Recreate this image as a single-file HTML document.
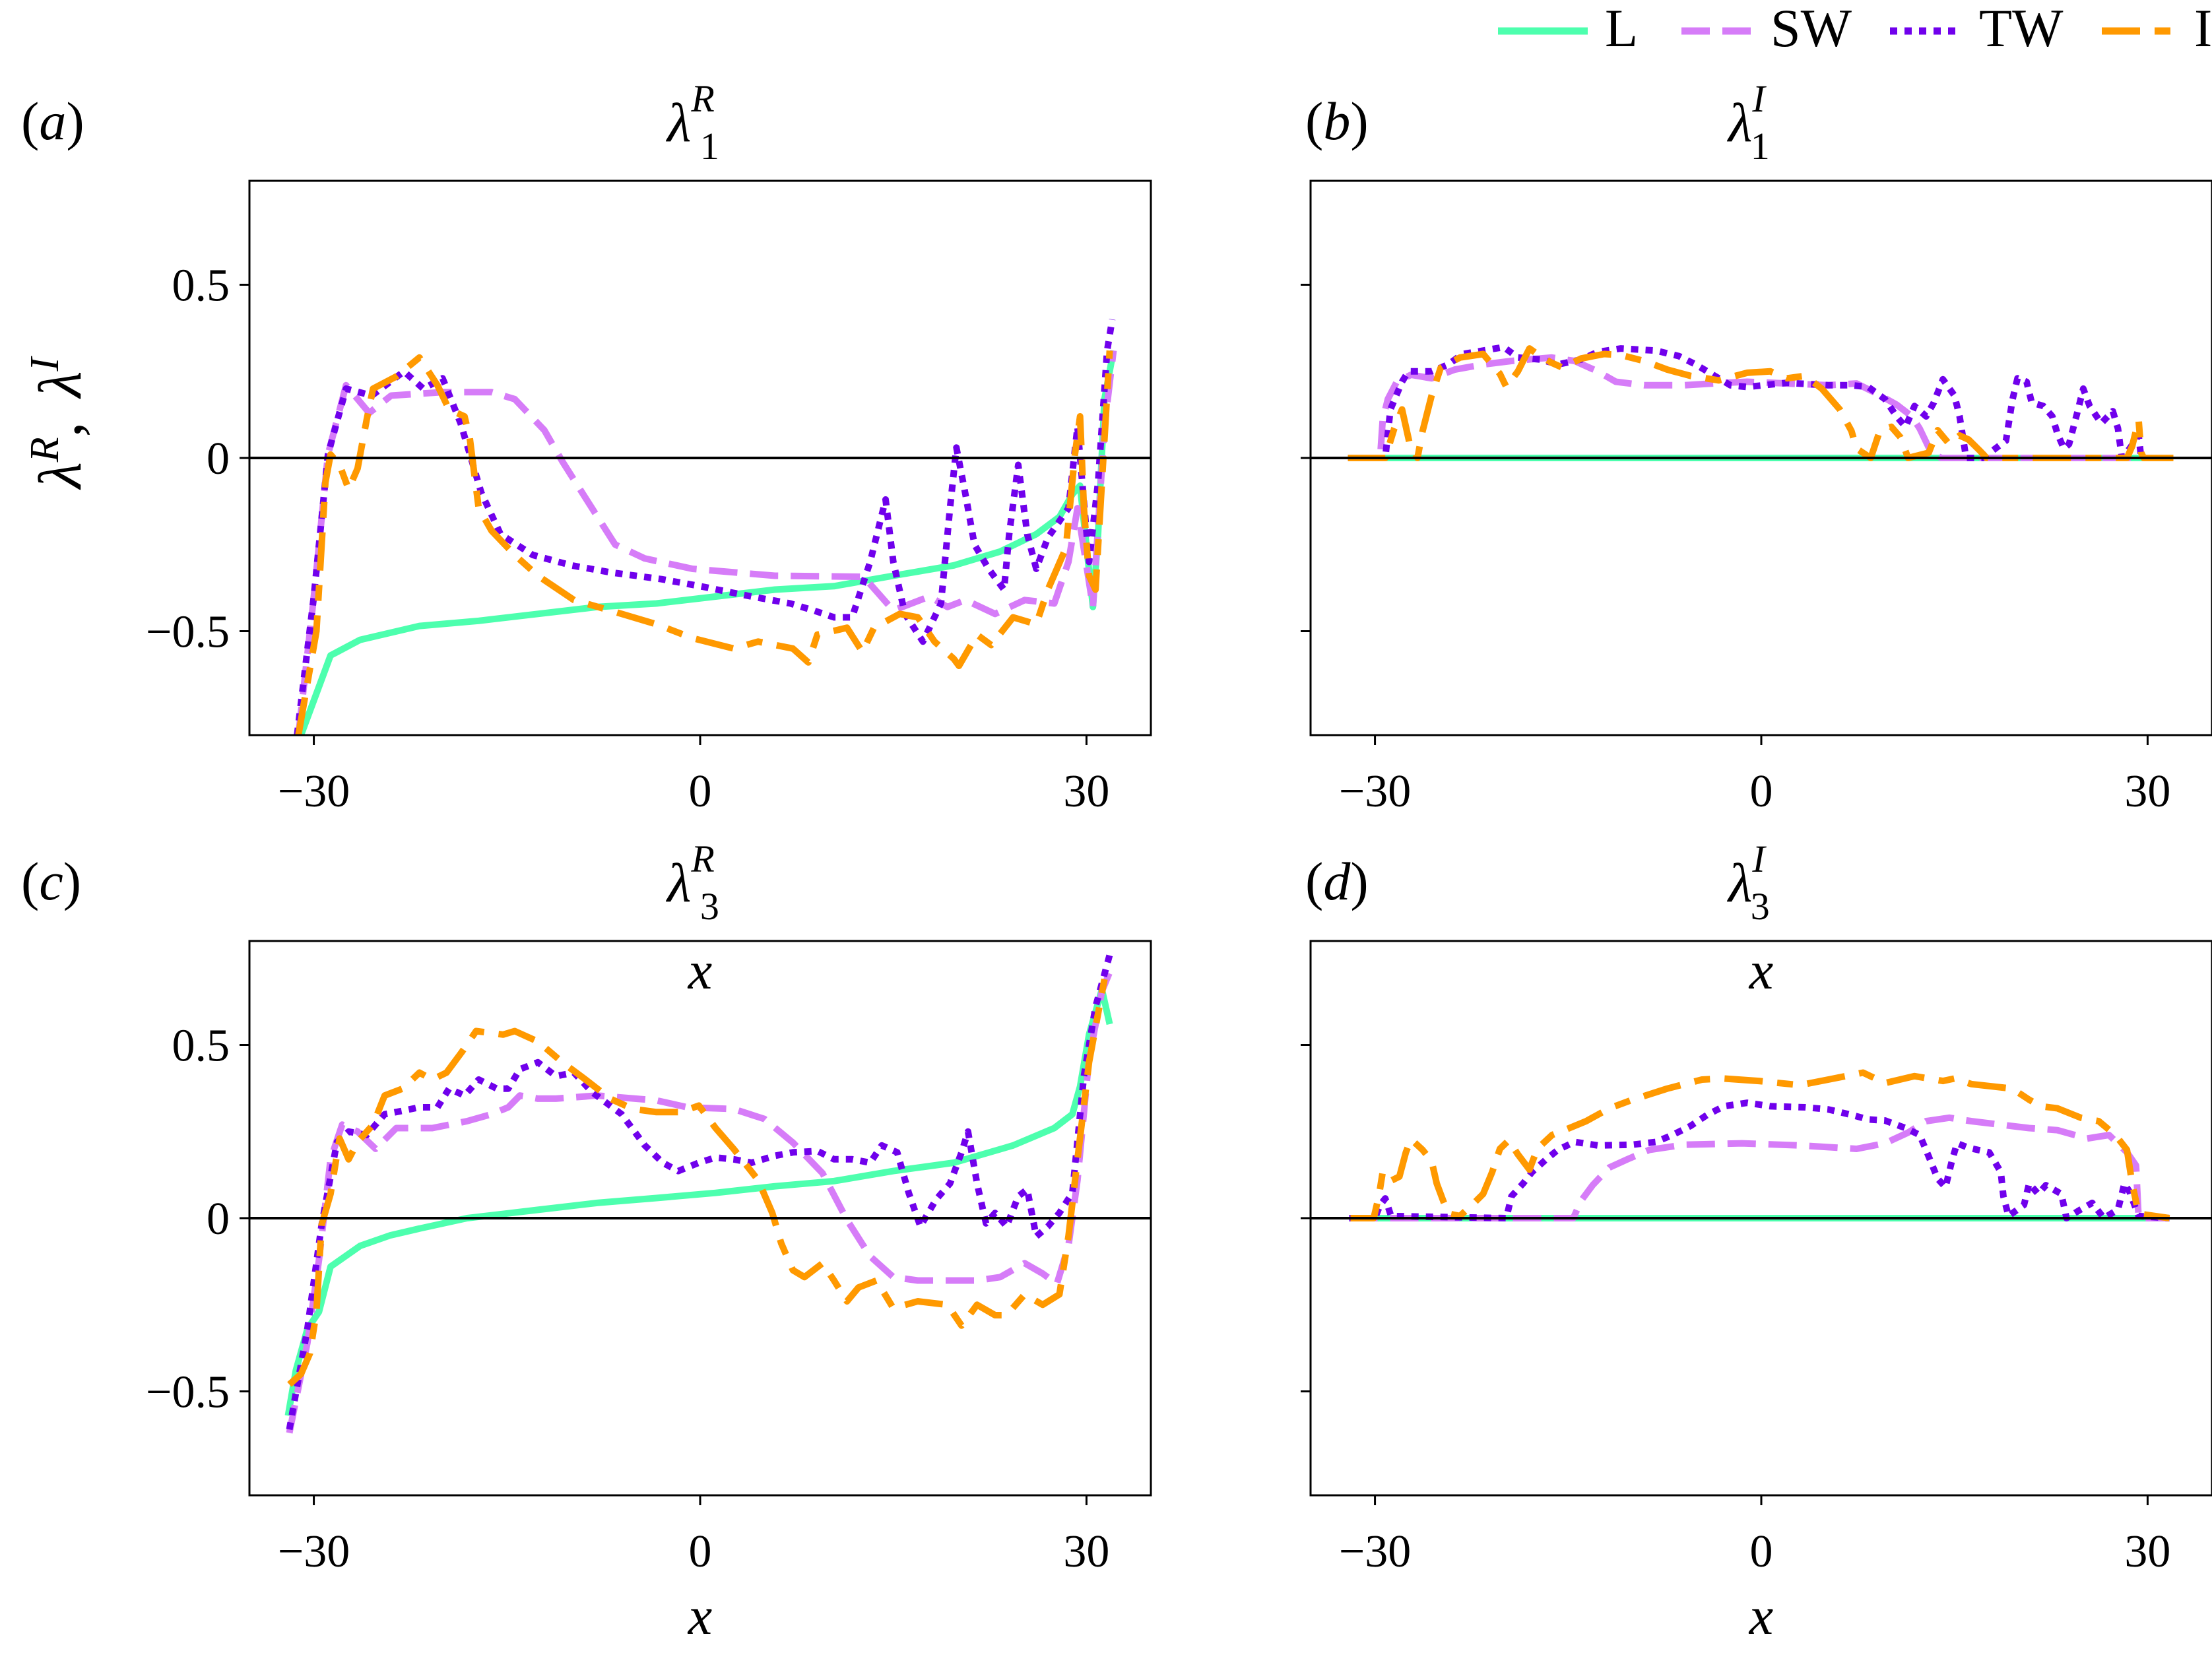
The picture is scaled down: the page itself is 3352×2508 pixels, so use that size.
<!DOCTYPE html>
<html><head><meta charset="utf-8">
<style>
html,body{margin:0;padding:0;background:#fff;}
svg{display:block;}
text{font-family:"Liberation Serif","DejaVu Serif",serif;fill:#000;}
</style></head>
<body>
<svg id="fig" width="3352" height="2508" viewBox="0 0 3352 2508" xmlns="http://www.w3.org/2000/svg">
<defs>
<clipPath id="clip-a"><rect x="378" y="274" width="1366" height="840"/></clipPath>
<clipPath id="clip-b"><rect x="1986" y="274" width="1366" height="840"/></clipPath>
<clipPath id="clip-c"><rect x="378" y="1426" width="1366" height="840"/></clipPath>
<clipPath id="clip-d"><rect x="1986" y="1426" width="1366" height="840"/></clipPath>
</defs>
<g>
  <line x1="2270" y1="47" x2="2406" y2="47" stroke="#4dffae" stroke-width="11"/>
  <text x="2432" y="70" font-size="82">L</text>
  <line x1="2548" y1="47" x2="2656" y2="47" stroke="#d67cf8" stroke-width="11" stroke-dasharray="43 19"/>
  <text x="2683" y="70" font-size="82">SW</text>
  <line x1="2864" y1="47" x2="2970" y2="47" stroke="#7000ec" stroke-width="11" stroke-dasharray="11 11"/>
  <text x="2999" y="70" font-size="82">TW</text>
  <line x1="3185" y1="47" x2="3291" y2="47" stroke="#ff9900" stroke-width="11" stroke-dasharray="58 22 24 22"/>
  <text x="3325" y="70" font-size="82">I</text>
</g>
<g id="panels"></g>
<text transform="translate(122,641) rotate(-90)" text-anchor="middle" font-size="92" font-style="italic">λ<tspan font-size="62" dy="-34">R</tspan><tspan dy="34" font-style="normal">,  </tspan><tspan dx="14">λ</tspan><tspan font-size="62" dy="-34">I</tspan></text>
</svg>
<script>
// ---- data (x positions and eigenvalue values) ----
const xTicks = [-30, 0, 30];
const xTickLabels = ["\u221230", "0", "30"];
const yTicks = [0.5, 0, -0.5];
const yTickLabels = ["0.5", "0", "\u22120.5"];

// panel (a): lambda_1^R
const aL_x = [-31,-29.6,-28.7,-26.4,-21.8,-17.2,-12.6,-8,-3.4,1.2,5.8,10.4,15,19.7,23.3,26.1,27.9,28.9,29.5,30.5,30.9,31.4,32.1];
const aL_y = [-0.8,-0.66,-0.57,-0.525,-0.485,-0.47,-0.45,-0.43,-0.42,-0.40,-0.38,-0.37,-0.34,-0.31,-0.27,-0.22,-0.17,-0.105,-0.08,-0.43,-0.22,0.17,0.31];
const aSW_x = [-31.2,-30,-28.9,-27.5,-25.7,-24,-20,-16.2,-14.4,-12.1,-10.7,-8.4,-6.6,-4.3,-0.6,5.8,12.7,15,17.8,19.2,20.6,22.9,25.2,27.5,28.6,29.3,30.5,31.4,32.1];
const aSW_y = [-0.8,-0.4,0.01,0.21,0.13,0.18,0.19,0.19,0.17,0.08,-0.01,-0.145,-0.25,-0.29,-0.32,-0.34,-0.343,-0.44,-0.40,-0.43,-0.41,-0.45,-0.41,-0.42,-0.30,-0.145,-0.43,0.09,0.31];
const aTW_x = [-31.3,-30,-28.9,-27.5,-25.5,-23,-21.5,-20,-18.6,-17,-15.5,-13,-10,-7,-3,0,4,7,8.8,10.4,11.8,13.2,14.4,15,15.9,17.3,18.7,19.4,19.9,20.6,21.3,22.4,23.6,24,24.7,25.4,26.1,27,28.6,29.3,30.2,30.9,31.6,32];
const aTW_y = [-0.8,-0.4,0.01,0.2,0.18,0.25,0.2,0.23,0.1,-0.1,-0.22,-0.28,-0.31,-0.33,-0.35,-0.37,-0.40,-0.42,-0.44,-0.46,-0.46,-0.30,-0.12,-0.30,-0.45,-0.53,-0.42,-0.145,0.03,-0.105,-0.25,-0.32,-0.38,-0.22,-0.02,-0.22,-0.32,-0.23,-0.145,0.09,-0.30,-0.07,0.31,0.40];
const aI_x = [-31.2,-29.8,-29.1,-28.7,-28,-27.3,-26.6,-25.9,-25.4,-23.6,-21.8,-20.4,-19.5,-18.3,-17.9,-17.2,-16.2,-14.4,-12.6,-9.8,-7,-3.4,-0.6,2.6,4.5,7.2,8.4,9.1,11.4,12.6,13.5,15.5,16.9,18.2,19.7,20.1,21.5,22.6,24.3,26.1,27,28.4,29.1,29.5,29.8,30.2,30.7,31.2,31.8];
const aI_y = [-0.8,-0.5,-0.07,0.01,-0.02,-0.09,-0.03,0.11,0.2,0.235,0.29,0.21,0.14,0.12,0.06,-0.145,-0.21,-0.28,-0.34,-0.41,-0.44,-0.48,-0.52,-0.55,-0.53,-0.55,-0.59,-0.51,-0.49,-0.56,-0.49,-0.45,-0.46,-0.53,-0.58,-0.60,-0.51,-0.54,-0.46,-0.48,-0.38,-0.26,0.01,0.12,-0.145,-0.34,-0.38,-0.07,0.31];

// panel (b): lambda_1^I
const bL_x = [-32.1,32];
const bL_y = [0,0];
const bSW_x = [-32.1,-29.6,-29.4,-29,-28.3,-27.2,-25.6,-23.8,-21.6,-19.4,-16.3,-14.5,-12.7,-11.3,-9.1,-6,-3.75,-1.1,2,5.2,7.4,8.75,10.5,11.7,12.3,13.2,13.7,14,32];
const bSW_y = [0,0,0.11,0.17,0.22,0.24,0.23,0.255,0.27,0.28,0.29,0.28,0.25,0.22,0.21,0.21,0.215,0.22,0.215,0.21,0.215,0.19,0.154,0.12,0.085,0.015,0.005,0,0];
const bTW_x = [-32.1,-29.2,-28.8,-27.9,-27.4,-25.6,-24.3,-23.2,-21.6,-20,-18.9,-17.1,-15.8,-14,-12.7,-10.9,-8.2,-6.4,-5.1,-3.75,-2.4,-1.1,2,5.2,7,8.3,9.6,10.5,11.2,11.9,12.8,13.4,14.1,15,15.4,15.7,15.9,17.2,19,19.5,19.9,20.6,21,21.9,22.6,23,23.5,23.9,24.6,25,25.5,26.4,27.3,27.7,28,28.6,29.3,29.5,32];
const bTW_y = [0,0,0.14,0.22,0.25,0.25,0.27,0.30,0.31,0.32,0.29,0.284,0.27,0.284,0.306,0.316,0.31,0.294,0.27,0.24,0.21,0.205,0.217,0.21,0.21,0.205,0.17,0.12,0.09,0.15,0.12,0.16,0.227,0.18,0.12,0.05,0,0,0.05,0.167,0.23,0.22,0.16,0.15,0.12,0.07,0.027,0.04,0.14,0.2,0.15,0.10,0.135,0.085,0,0.027,0.065,0,0];
const bI_x = [-32.1,-29.2,-28.5,-27.9,-27.3,-26.7,-26.3,-25.6,-24.9,-23.4,-21.6,-20.3,-19.8,-18.9,-18,-17.4,-16.3,-15.4,-14,-12.2,-10.9,-9.1,-7.3,-5.5,-3.3,-1.1,0.7,2,3.4,4.7,6.1,7,7.4,8.5,9.2,10.1,10.8,11.4,13,13.7,14.6,15.4,16.1,17,17.5,28.4,28.8,29.3,29.5,29.7,32];
const bI_y = [0,0,0.085,0.14,0.04,0,0.078,0.18,0.26,0.29,0.30,0.243,0.205,0.25,0.316,0.30,0.275,0.26,0.287,0.30,0.297,0.28,0.255,0.237,0.224,0.246,0.25,0.23,0.237,0.2,0.14,0.078,0.027,0,0.078,0.09,0.06,0,0.015,0.08,0.04,0.065,0.053,0.02,0,0,0.034,0.11,0.015,0,0];

// panel (c): lambda_3^R
const cL_x = [-32,-31.4,-30.5,-29.6,-28.7,-26.4,-24.1,-21.8,-18.1,-12.6,-8,-3.4,1.2,5.8,10.4,15,19.7,24.3,27.5,28.9,29.5,30.2,31.2,31.8];
const cL_y = [-0.57,-0.44,-0.32,-0.27,-0.14,-0.08,-0.05,-0.03,0,0.024,0.044,0.058,0.073,0.092,0.107,0.136,0.16,0.21,0.26,0.30,0.38,0.53,0.66,0.56];
const cSW_x = [-31.9,-30.5,-29.6,-28.7,-27.8,-26.6,-25.2,-23.6,-20.8,-18.1,-16.2,-14.9,-14,-12.6,-11.2,-8,-3.4,-1,2.6,5,7.2,9.5,11.4,13.2,15,16.9,21.5,23.3,25.2,26.6,27.7,28.6,29.3,30.2,31.2,31.8];
const cSW_y = [-0.62,-0.36,-0.12,0.17,0.27,0.25,0.2,0.26,0.26,0.28,0.30,0.32,0.354,0.345,0.345,0.354,0.34,0.32,0.315,0.286,0.218,0.13,-0.005,-0.11,-0.17,-0.18,-0.18,-0.17,-0.13,-0.16,-0.19,-0.08,0.11,0.46,0.655,0.71];
const cTW_x = [-31.9,-30.5,-29.4,-28.2,-27.3,-25.9,-24.5,-23.1,-21.8,-20.4,-19.5,-18.3,-17.2,-15.8,-14.9,-14,-12.6,-11.2,-9.8,-8.4,-6.1,-4.3,-2.9,-1.7,-0.1,1.2,2.6,4,5.8,7.2,9.1,10.4,11.8,13.2,14.1,15.3,16.2,17.1,18.3,19.4,20.3,20.8,21.5,22.2,22.9,23.8,24.7,25.4,26.1,27,27.9,28.9,29.8,30.7,31.8];
const cTW_y = [-0.61,-0.32,-0.02,0.22,0.25,0.24,0.30,0.31,0.32,0.32,0.374,0.354,0.40,0.374,0.374,0.43,0.45,0.41,0.42,0.364,0.30,0.21,0.16,0.136,0.16,0.175,0.17,0.16,0.18,0.19,0.194,0.17,0.17,0.16,0.21,0.19,0.073,-0.024,0.053,0.10,0.19,0.25,0.10,-0.015,0.015,-0.024,0.063,0.083,-0.053,-0.024,0.015,0.073,0.41,0.61,0.76];
const cI_x = [-31.9,-31,-30.3,-29.8,-29.4,-28.7,-28,-27.3,-26.6,-25.4,-24.5,-23.1,-21.8,-20.8,-19.7,-18.5,-17.4,-15.3,-14.4,-12.6,-10.7,-8.9,-7,-5.2,-3.4,-1.5,-0.1,1.2,2.6,4.5,5.6,6.3,7.2,8.1,9.5,10.4,11.4,12.3,13.7,15,16.9,19.2,20.3,21.5,22.9,23.8,25.2,26.6,27.9,28.6,29.3,30.2,31.4];
const cI_y = [-0.48,-0.45,-0.39,-0.27,-0.02,0.07,0.23,0.17,0.22,0.27,0.354,0.374,0.42,0.40,0.42,0.48,0.54,0.53,0.54,0.51,0.45,0.40,0.345,0.315,0.306,0.306,0.325,0.26,0.20,0.11,0.015,-0.073,-0.15,-0.17,-0.13,-0.18,-0.24,-0.20,-0.18,-0.26,-0.24,-0.25,-0.31,-0.25,-0.28,-0.28,-0.22,-0.25,-0.22,-0.053,0.17,0.45,0.69];

// panel (d): lambda_3^I
const dL_x = [-32,31.7];
const dL_y = [0,0];
const dSW_x = [-32,-14.6,-14,-13.1,-11.8,-10.4,-8.7,-6,-1.5,3,7.4,9.6,11.4,12.8,14.6,16.3,20.8,23,25.3,27,28.4,29.1,29.3,31.7];
const dSW_y = [0,0,0.05,0.095,0.146,0.17,0.197,0.212,0.216,0.21,0.2,0.216,0.247,0.28,0.29,0.28,0.26,0.254,0.23,0.24,0.19,0.152,0,0];
const dTW_x = [-32,-30,-29.6,-29.2,-28.75,-19.8,-19.4,-18.5,-17.8,-16.7,-15.8,-14.5,-12.7,-10,-8.2,-6.9,-5.5,-4.2,-2.9,-1.1,0.7,3.4,5.2,7,8.3,9.6,11.2,12.3,13,13.7,14.3,14.8,15.2,16.1,17.7,18.6,18.8,19.2,20.4,20.8,21.5,22.1,23.3,23.7,24.8,25.7,26.6,27.7,28.2,28.6,29.3,31.7];
const dTW_y = [0,0,0.038,0.057,0.006,0,0.063,0.10,0.133,0.17,0.197,0.22,0.21,0.212,0.22,0.24,0.266,0.298,0.323,0.333,0.323,0.32,0.314,0.298,0.285,0.282,0.26,0.24,0.178,0.114,0.089,0.165,0.216,0.203,0.19,0.133,0.063,0.006,0.038,0.10,0.07,0.095,0.07,0,0.025,0.044,0,0.025,0.10,0.076,0.006,0];
const dI_x = [-31.9,-30.1,-29.7,-29.4,-28.75,-28.1,-27.6,-27.2,-26.3,-25.6,-25.2,-24.7,-24.3,-23.4,-22.3,-21.6,-20.9,-20.3,-19.6,-18.9,-18,-17.4,-16.25,-14.9,-13.6,-11.8,-10,-7.3,-4.6,-2.9,-0.2,3,5.2,7.9,9.6,11.9,14.1,15,16.3,19.5,20.8,21.7,23,24.8,26.2,27.5,28.4,28.8,29.3,31.7];
const dI_y = [0,0,0.063,0.133,0.108,0.12,0.19,0.228,0.197,0.165,0.10,0.05,0.013,0.006,0.044,0.07,0.133,0.2,0.225,0.184,0.14,0.2,0.24,0.26,0.28,0.317,0.342,0.374,0.40,0.403,0.396,0.384,0.40,0.42,0.39,0.41,0.396,0.403,0.387,0.374,0.342,0.323,0.317,0.29,0.28,0.24,0.197,0.10,0.013,0];

// ---- rendering ----
const NS = "http://www.w3.org/2000/svg";
const XMIN = -35, XMAX = 35, YMIN = -0.8, YMAX = 0.8;
const PW = 1366, PH = 840;
const styles = {
  L:  {color:"#4dffae", dash:null},
  SW: {color:"#d67cf8", dash:"43 19"},
  TW: {color:"#7000ec", dash:"11 11"},
  I:  {color:"#ff9900", dash:"58 22 24 22"}
};
const panels = [
  {id:"a", left:378, top:274, labelX:32, label:"a", sub:"1", sup:"R", yLabels:true, xlabelBelow:false,
   series:{L:[aL_x,aL_y], SW:[aSW_x,aSW_y], TW:[aTW_x,aTW_y], I:[aI_x,aI_y]}},
  {id:"b", left:1986, top:274, labelX:1978, label:"b", sub:"1", sup:"I", yLabels:false, xlabelBelow:false,
   series:{L:[bL_x,bL_y], SW:[bSW_x,bSW_y], TW:[bTW_x,bTW_y], I:[bI_x,bI_y]}},
  {id:"c", left:378, top:1426, labelX:32, label:"c", sub:"3", sup:"R", yLabels:true, xlabelBelow:true,
   series:{L:[cL_x,cL_y], SW:[cSW_x,cSW_y], TW:[cTW_x,cTW_y], I:[cI_x,cI_y]}},
  {id:"d", left:1986, top:1426, labelX:1978, label:"d", sub:"3", sup:"I", yLabels:false, xlabelBelow:true,
   series:{L:[dL_x,dL_y], SW:[dSW_x,dSW_y], TW:[dTW_x,dTW_y], I:[dI_x,dI_y]}}
];
const root = document.getElementById("panels");
function mk(tag, attrs, parent){
  const e = document.createElementNS(NS, tag);
  for (const k in attrs) e.setAttribute(k, attrs[k]);
  (parent||root).appendChild(e);
  return e;
}
panels.forEach(p => {
  const sx = v => p.left + (v - XMIN) / (XMAX - XMIN) * PW;
  const sy = v => p.top + (YMAX - v) / (YMAX - YMIN) * PH;
  const g = mk("g", {});
  
  
  const sg = mk("g", {"clip-path":"url(#clip-" + p.id + ")"}, g);
  
  
  ["L","SW","TW","I"].forEach(k => {
    const xs = p.series[k][0], ys = p.series[k][1];
    let d = "";
    for (let i = 0; i < xs.length; i++) d += (i ? "L" : "M") + sx(xs[i]).toFixed(1) + " " + sy(ys[i]).toFixed(1);
    const path = mk("path", {d:d, fill:"none", stroke:styles[k].color, "stroke-width":"10", "stroke-linejoin":"round", "stroke-linecap":"butt"}, sg);
    if (styles[k].dash) path.setAttribute("stroke-dasharray", styles[k].dash);
    
    
  });
  const zl = mk("line", {x1:p.left, x2:p.left+PW, y1:sy(0), y2:sy(0), stroke:"#000", "stroke-width":"4"}, g);
  
  
  const fr = mk("rect", {x:p.left, y:p.top, width:PW, height:PH, fill:"none", stroke:"#000", "stroke-width":"3"}, g);
  
  
  xTicks.forEach((t, i) => {
    const tl = mk("line", {x1:sx(t), x2:sx(t), y1:p.top+PH, y2:p.top+PH+15, stroke:"#000", "stroke-width":"3"}, g);
    
    
    const tx = mk("text", {x:sx(t), y:p.top+PH+108, "text-anchor":"middle", "font-size":"70"}, g);
    tx.textContent = xTickLabels[i];
    
    
  });
  yTicks.forEach((t, i) => {
    const tl = mk("line", {x1:p.left-15, x2:p.left, y1:sy(t), y2:sy(t), stroke:"#000", "stroke-width":"3"}, g);
    
    
    if (p.yLabels) {
      const tx = mk("text", {x:p.left-30, y:sy(t)+24, "text-anchor":"end", "font-size":"70"}, g);
      tx.textContent = yTickLabels[i];
      
      
    }
  });
  const lb = mk("text", {x:p.labelX, y:p.top-63, "font-size":"82"}, g);
  lb.innerHTML = '(<tspan font-style="italic">' + p.label + '</tspan>)';
  
  
  const ti = mk("text", {x:p.left+PW/2-50, y:p.top-60, "font-size":"84", "font-style":"italic"}, g);
  ti.innerHTML = 'λ<tspan font-size="58" dy="-45">' + p.sup + '</tspan><tspan font-size="58" font-style="normal" dx="-22" dy="72">' + p.sub + '</tspan>';
  
  
  if (p.xlabelBelow) {
    const xl = mk("text", {x:p.left+PW/2, y:p.top+PH+210, "text-anchor":"middle", "font-size":"82", "font-style":"italic"}, g);
    xl.textContent = "x";
    
    
  }
});
[378, 1986].forEach((lx, i) => {
  const xl = mk("text", {x:lx+PW/2, y:1498, "text-anchor":"middle", "font-size":"82", "font-style":"italic"});
  xl.textContent = "x";
  
  
});
</script>
</body></html>
